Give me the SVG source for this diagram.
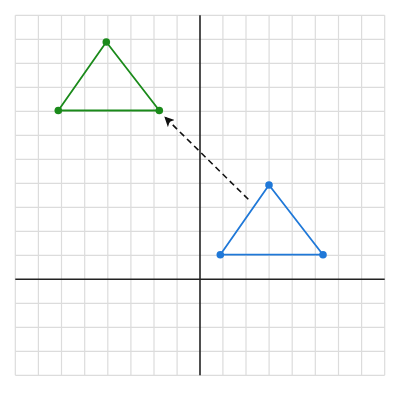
<svg xmlns="http://www.w3.org/2000/svg" width="400" height="400" viewBox="0 0 400 400">
<defs>
<style>
.grid line{stroke:#dcdcdc;stroke-width:1.2}
.axis{stroke:#222;stroke-width:1.6}
.green{fill:none;stroke:#1a8a1a;stroke-width:1.8;stroke-linejoin:round}
.greenpt{fill:#1a8a1a}
.blue{fill:none;stroke:#1f78d8;stroke-width:1.8;stroke-linejoin:round}
.bluept{fill:#1f78d8}
.conn{stroke:#111;stroke-width:1.6;stroke-dasharray:6,4;fill:none}
</style>
<marker id="arrow" markerWidth="10" markerHeight="10" refX="9" refY="5" orient="auto" markerUnits="userSpaceOnUse">
<path d="M0,0 L10,5 L0,10 L2.5,5 Z" fill="#111"/>
</marker>
</defs>
<rect width="400" height="400" fill="#fff"/>
<g class="grid">
<line x1="15.3" y1="15.3" x2="15.3" y2="375.3"/>
<line x1="38.4" y1="15.3" x2="38.4" y2="375.3"/>
<line x1="61.5" y1="15.3" x2="61.5" y2="375.3"/>
<line x1="84.7" y1="15.3" x2="84.7" y2="375.3"/>
<line x1="107.8" y1="15.3" x2="107.8" y2="375.3"/>
<line x1="130.9" y1="15.3" x2="130.9" y2="375.3"/>
<line x1="154" y1="15.3" x2="154" y2="375.3"/>
<line x1="177.1" y1="15.3" x2="177.1" y2="375.3"/>
<line x1="222.9" y1="15.3" x2="222.9" y2="375.3"/>
<line x1="246" y1="15.3" x2="246" y2="375.3"/>
<line x1="269.1" y1="15.3" x2="269.1" y2="375.3"/>
<line x1="292.2" y1="15.3" x2="292.2" y2="375.3"/>
<line x1="315.3" y1="15.3" x2="315.3" y2="375.3"/>
<line x1="338.5" y1="15.3" x2="338.5" y2="375.3"/>
<line x1="361.6" y1="15.3" x2="361.6" y2="375.3"/>
<line x1="384.7" y1="15.3" x2="384.7" y2="375.3"/>
<line x1="15.3" y1="15.3" x2="384.7" y2="15.3"/>
<line x1="15.3" y1="39.3" x2="384.7" y2="39.3"/>
<line x1="15.3" y1="63.3" x2="384.7" y2="63.3"/>
<line x1="15.3" y1="87.3" x2="384.7" y2="87.3"/>
<line x1="15.3" y1="111.3" x2="384.7" y2="111.3"/>
<line x1="15.3" y1="135.3" x2="384.7" y2="135.3"/>
<line x1="15.3" y1="159.3" x2="384.7" y2="159.3"/>
<line x1="15.3" y1="183.3" x2="384.7" y2="183.3"/>
<line x1="15.3" y1="207.3" x2="384.7" y2="207.3"/>
<line x1="15.3" y1="231.3" x2="384.7" y2="231.3"/>
<line x1="15.3" y1="255.3" x2="384.7" y2="255.3"/>
<line x1="15.3" y1="303.3" x2="384.7" y2="303.3"/>
<line x1="15.3" y1="327.3" x2="384.7" y2="327.3"/>
<line x1="15.3" y1="351.3" x2="384.7" y2="351.3"/>
<line x1="15.3" y1="375.3" x2="384.7" y2="375.3"/>
</g>
<line class="axis" x1="200" y1="15.3" x2="200" y2="375.3" stroke="#444"/>
<line class="axis" x1="15.3" y1="279.3" x2="384.7" y2="279.3"/>
<g id="green-triangle">
<polygon class="green" points="106.3,42 58.3,110.5 159.3,110.5"/>
<circle class="greenpt" cx="106.3" cy="42" r="3.8"/>
<circle class="greenpt" cx="58.3" cy="110.5" r="3.8"/>
<circle class="greenpt" cx="159.3" cy="110.5" r="3.8"/>
</g>
<g id="blue-triangle">
<polygon class="blue" points="269,185 220.3,254.7 323,254.7"/>
<circle class="bluept" cx="269" cy="185" r="3.8"/>
<circle class="bluept" cx="220.3" cy="254.7" r="3.8"/>
<circle class="bluept" cx="323" cy="254.7" r="3.8"/>
</g>
<g id="connectors">
<line class="conn" x1="248.3" y1="199.3" x2="165" y2="117.3" marker-end="url(#arrow)"/>
</g>
</svg>
